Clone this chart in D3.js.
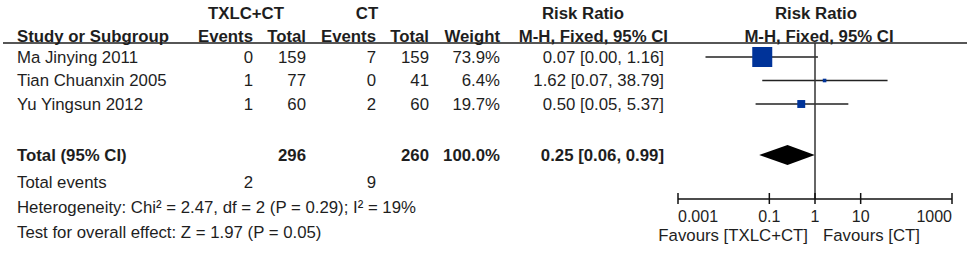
<!DOCTYPE html>
<html>
<head>
<meta charset="utf-8">
<script src="https://cdn.jsdelivr.net/npm/d3@7"></script>
<style>
  html, body { margin: 0; padding: 0; background: #fff; }
  svg text { font-family: "Liberation Sans", Arial, sans-serif; font-size: 16.8px; fill: #1e1e1e; }
</style>
</head>
<body>
<svg id="chart" width="969" height="253"></svg>
<script>
  // ---- data ----
  const studies = ["Ma Jinying 2011", "Tian Chuanxin 2005", "Yu Yingsun 2012"];
  const expEvents = [0, 1, 1];
  const expTotal = [159, 77, 60];
  const ctlEvents = [7, 0, 2];
  const ctlTotal = [159, 41, 60];
  const weights = [73.9, 6.4, 19.7];
  const rr = [0.07, 1.62, 0.50];
  const rrLow = [0.004, 0.07, 0.05];
  const rrHigh = [1.16, 38.79, 5.37];
  const rrText = ["0.07 [0.00, 1.16]", "1.62 [0.07, 38.79]", "0.50 [0.05, 5.37]"];

  const totalExp = 296, totalCtl = 260;
  const totalRR = 0.25, totalLow = 0.06, totalHigh = 0.99;
  const totalRRText = "0.25 [0.06, 0.99]";
  const totalEventsExp = 2, totalEventsCtl = 9;
  const heterogeneity = "Heterogeneity: Chi² = 2.47, df = 2 (P = 0.29); I² = 19%";
  const overallEffect = "Test for overall effect: Z = 1.97 (P = 0.05)";
  const axisTicks = [0.001, 0.1, 1, 10, 1000];
  const favourLeft = "Favours [TXLC+CT]", favourRight = "Favours [CT]";

  const svg = d3.select("#chart");

  // layout
  const colStudy = 17;
  const colExpEv = 253, colExpTot = 306, colCtlEv = 376, colCtlTot = 429, colWeight = 500, colRR = 664;
  const rowY = d3.scalePoint().domain(studies).range([57, 104]);
  const yTotal = 155, yEvents = 182, yHet = 207, yTest = 232;
  const axisY = 199, lineTop = 43;

  const x = d3.scaleLog().domain([0.001, 1000]).range([678, 952]);
  const boxSize = d3.scalePow().exponent(0.7).domain([0, d3.max(weights)]).range([0, 20]);

  function txt(xp, yp, s, anchor, bold) {
    return svg.append("text").attr("x", xp).attr("y", yp).attr("dy", "0.35em")
      .attr("text-anchor", anchor || "start")
      .attr("font-weight", bold ? 700 : 400).text(s);
  }

  // headers
  txt(246, 13, "TXLC+CT", "middle", true);
  txt(367, 13, "CT", "middle", true);
  txt(583, 13, "Risk Ratio", "middle", true);
  txt(816, 13, "Risk Ratio", "middle", true);
  txt(colStudy, 36, "Study or Subgroup", "start", true);
  txt(colExpEv, 36, "Events", "end", true);
  txt(colExpTot, 36, "Total", "end", true);
  txt(colCtlEv, 36, "Events", "end", true);
  txt(colCtlTot, 36, "Total", "end", true);
  txt(colWeight, 36, "Weight", "end", true);
  txt(668, 36, "M-H, Fixed, 95% CI", "end", true);
  txt(819, 36, "M-H, Fixed, 95% CI", "middle", true);

  svg.append("line").attr("x1", 3).attr("x2", 967).attr("y1", lineTop).attr("y2", lineTop)
    .attr("stroke", "#1e1e1e").attr("stroke-width", 1.5);

  // study rows
  studies.forEach((s, i) => {
    const y = rowY(s);
    txt(colStudy, y, s);
    txt(colExpEv, y, expEvents[i], "end");
    txt(colExpTot, y, expTotal[i], "end");
    txt(colCtlEv, y, ctlEvents[i], "end");
    txt(colCtlTot, y, ctlTotal[i], "end");
    txt(colWeight, y, weights[i].toFixed(1) + "%", "end");
    txt(colRR, y, rrText[i], "end");
  });

  // total rows
  txt(colStudy, yTotal, "Total (95% CI)", "start", true);
  txt(colExpTot, yTotal, totalExp, "end", true);
  txt(colCtlTot, yTotal, totalCtl, "end", true);
  txt(colWeight, yTotal, "100.0%", "end", true);
  txt(colRR, yTotal, totalRRText, "end", true);
  txt(colStudy, yEvents, "Total events");
  txt(colExpEv, yEvents, totalEventsExp, "end");
  txt(colCtlEv, yEvents, totalEventsCtl, "end");
  txt(colStudy, yHet, heterogeneity);
  txt(colStudy, yTest, overallEffect);

  // CI lines
  svg.selectAll(".ci").data(studies).enter().append("line")
    .attr("x1", (d, i) => x(rrLow[i])).attr("x2", (d, i) => x(rrHigh[i]))
    .attr("y1", d => rowY(d)).attr("y2", d => rowY(d))
    .attr("stroke", "#222").attr("stroke-width", 1.5);

  // boxes
  svg.selectAll(".box").data(studies).enter().append("rect")
    .attr("x", (d, i) => x(rr[i]) - boxSize(weights[i]) / 2)
    .attr("y", (d, i) => rowY(d) - boxSize(weights[i]) / 2)
    .attr("width", (d, i) => boxSize(weights[i]))
    .attr("height", (d, i) => boxSize(weights[i]))
    .attr("fill", "#003399");

  // diamond
  const dh = 10;
  svg.append("path")
    .attr("d", `M${x(totalLow)},${yTotal} L${x(totalRR)},${yTotal - dh} L${x(totalHigh)},${yTotal} L${x(totalRR)},${yTotal + dh} Z`)
    .attr("fill", "#000");

  // null line
  svg.append("line").attr("x1", x(1)).attr("x2", x(1)).attr("y1", lineTop).attr("y2", axisY)
    .attr("stroke", "#333").attr("stroke-width", 1.5);

  // axis
  svg.append("line").attr("x1", x(0.001)).attr("x2", x(1000)).attr("y1", axisY).attr("y2", axisY)
    .attr("stroke", "#111").attr("stroke-width", 1.5);
  svg.selectAll(".tick").data(axisTicks).enter().append("line")
    .attr("x1", d => x(d)).attr("x2", d => x(d))
    .attr("y1", axisY - 6).attr("y2", axisY + 5)
    .attr("stroke", "#111").attr("stroke-width", 1.5);
  axisTicks.forEach((t, i) => {
    const anchor = i === 0 ? "start" : (i === axisTicks.length - 1 ? "end" : "middle");
    txt(x(t), 216, String(t), anchor).style("font-size", "16px");
  });

  txt(x(1) - 7, 235, favourLeft, "end");
  txt(x(1) + 8, 235, favourRight, "start");
</script>
</body>
</html>
